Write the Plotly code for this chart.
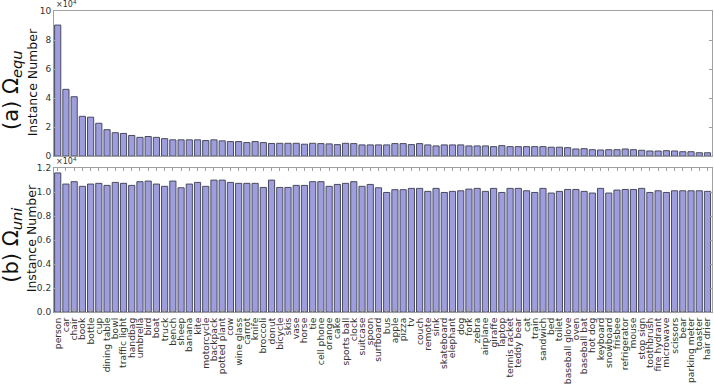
import plotly.graph_objects as go
from plotly.subplots import make_subplots

# 80 categories, same order in both panels
categories = [
    "person", "car", "chair", "book", "bottle", "cup", "dining table", "bowl",
    "traffic light", "handbag", "umbrella", "bird", "boat", "truck", "bench", "sheep",
    "banana", "kite", "motorcycle", "backpack", "potted plant", "cow", "wine glass", "carrot",
    "knife", "broccoli", "donut", "bicycle", "skis", "vase", "horse", "tie",
    "cell phone", "orange", "cake", "sports ball", "clock", "suitcase", "spoon", "surfboard",
    "bus", "apple", "pizza", "tv", "couch", "remote", "sink", "skateboard",
    "elephant", "dog", "fork", "zebra", "airplane", "giraffe", "laptop", "tennis racket",
    "teddy bear", "cat", "train", "sandwich", "bed", "toilet", "baseball glove", "oven",
    "baseball bat", "hot dog", "keyboard", "snowboard", "frisbee", "refrigerator", "mouse", "stop sign",
    "toothbrush", "fire hydrant", "microwave", "scissors", "bear", "parking meter", "toaster", "hair drier",
]

# instance numbers, in units of 10^4
equ_counts = [
    9.03, 4.60, 4.09, 2.74, 2.68, 2.26, 1.82, 1.61,
    1.56, 1.42, 1.29, 1.35, 1.29, 1.20, 1.12, 1.12,
    1.12, 1.12, 1.07, 1.12, 1.05, 1.00, 1.00, 0.93,
    1.00, 0.93, 0.87, 0.88, 0.88, 0.88, 0.82, 0.88,
    0.86, 0.84, 0.79, 0.88, 0.86, 0.77, 0.77, 0.77,
    0.77, 0.86, 0.86, 0.79, 0.86, 0.77, 0.70, 0.77,
    0.77, 0.77, 0.70, 0.70, 0.70, 0.65, 0.72, 0.65,
    0.65, 0.65, 0.65, 0.65, 0.61, 0.61, 0.58, 0.49,
    0.51, 0.44, 0.42, 0.44, 0.44, 0.49, 0.44, 0.40,
    0.35, 0.35, 0.37, 0.35, 0.30, 0.30, 0.23, 0.23,
]

uni_counts = [
    1.160, 1.067, 1.087, 1.048, 1.067, 1.073, 1.056, 1.081,
    1.073, 1.056, 1.087, 1.092, 1.067, 1.048, 1.092, 1.036,
    1.067, 1.081, 1.048, 1.100, 1.100, 1.081, 1.073, 1.073,
    1.073, 1.039, 1.100, 1.039, 1.039, 1.056, 1.056, 1.087,
    1.087, 1.048, 1.064, 1.073, 1.087, 1.048, 1.064, 1.036,
    0.997, 1.020, 1.020, 1.031, 1.031, 1.006, 1.031, 0.997,
    1.006, 1.011, 1.025, 1.031, 1.006, 1.031, 0.997, 1.031,
    1.031, 1.011, 0.997, 1.031, 0.992, 1.006, 1.022, 1.022,
    1.006, 0.992, 1.031, 0.992, 1.017, 1.022, 1.022, 1.031,
    0.997, 1.011, 0.997, 1.011, 1.011, 1.011, 1.011, 1.006,
]

equ_ticks = [0, 2, 4, 6, 8, 10]
uni_ticks = [0.0, 0.2, 0.4, 0.6, 0.8, 1.0, 1.2]

BAR_FILL = "rgb(158,158,222)"
BAR_EDGE = "#4a4a5e"
AXIS_GREY = "#a0a0a0"
FONT = "DejaVu Sans"

fig = make_subplots(rows=2, cols=1, vertical_spacing=0.04)

fig.add_trace(go.Bar(x=categories, y=equ_counts, marker=dict(color=BAR_FILL, line=dict(color=BAR_EDGE, width=1))),
              row=1, col=1)
fig.add_trace(go.Bar(x=categories, y=uni_counts, marker=dict(color=BAR_FILL, line=dict(color=BAR_EDGE, width=1))),
              row=2, col=1)

axis_common = dict(showline=True, linecolor=AXIS_GREY, linewidth=1, mirror="allticks",
                   ticks="inside", tickcolor=AXIS_GREY, ticklen=3, showgrid=False, zeroline=False,
                   tickfont=dict(family=FONT, size=9, color="#333"))

fig.update_xaxes(**axis_common, range=[-0.45, 79.55])
fig.update_xaxes(showticklabels=False, ticks="", row=1, col=1)
fig.update_xaxes(tickangle=-90, tickmode="array", tickvals=categories, ticktext=categories,
                 ticklabeloverflow="allow", ticklabelstandoff=1,
                 tickfont=dict(family=FONT, size=9.2, color="#333"), row=2, col=1)

fig.update_yaxes(**axis_common)
fig.update_yaxes(range=[0, 10], tickvals=equ_ticks, row=1, col=1)
fig.update_yaxes(range=[0, 1.2], tickvals=uni_ticks, tickformat=".1f", row=2, col=1)

fig.update_layout(
    width=714, height=386, showlegend=False, bargap=0.25,
    plot_bgcolor="white", paper_bgcolor="white",
    margin=dict(l=54, r=2, t=11, b=74),
    font=dict(family=FONT, color="#222"),
)
fig.update_layout(yaxis=dict(domain=[0.518, 1.0]), yaxis2=dict(domain=[0.0, 0.478]))

# panel labels and axis titles
annots = [
    dict(text="(a) Ω<sub><i>equ</i></sub>", x=-0.064, y=0.737, size=21),
    dict(text="Instance Number", x=-0.033, y=0.764, size=12.5),
    dict(text="(b) Ω<sub><i>uni</i></sub>", x=-0.064, y=0.223, size=21),
    dict(text="Instance Number", x=-0.033, y=0.246, size=12.5),
]
for a in annots:
    fig.add_annotation(text=a["text"], x=a["x"], y=a["y"], xref="paper", yref="paper",
                       textangle=-90, showarrow=False, xanchor="center", yanchor="middle",
                       font=dict(family=FONT, size=a["size"], color="#111"))

# x10^4 exponent labels
for yy in [1.0, 0.478]:
    fig.add_annotation(text="×10<sup>4</sup>", x=0.0, y=yy, xref="paper", yref="paper",
                       showarrow=False, xanchor="left", yanchor="bottom",
                       font=dict(family=FONT, size=8, color="#333"))

# drop the browser's default 8px body margin so the figure fills the window
fig.write_html("out.html", config={"displayModeBar": False},
               post_script="document.body.style.margin='0';")
